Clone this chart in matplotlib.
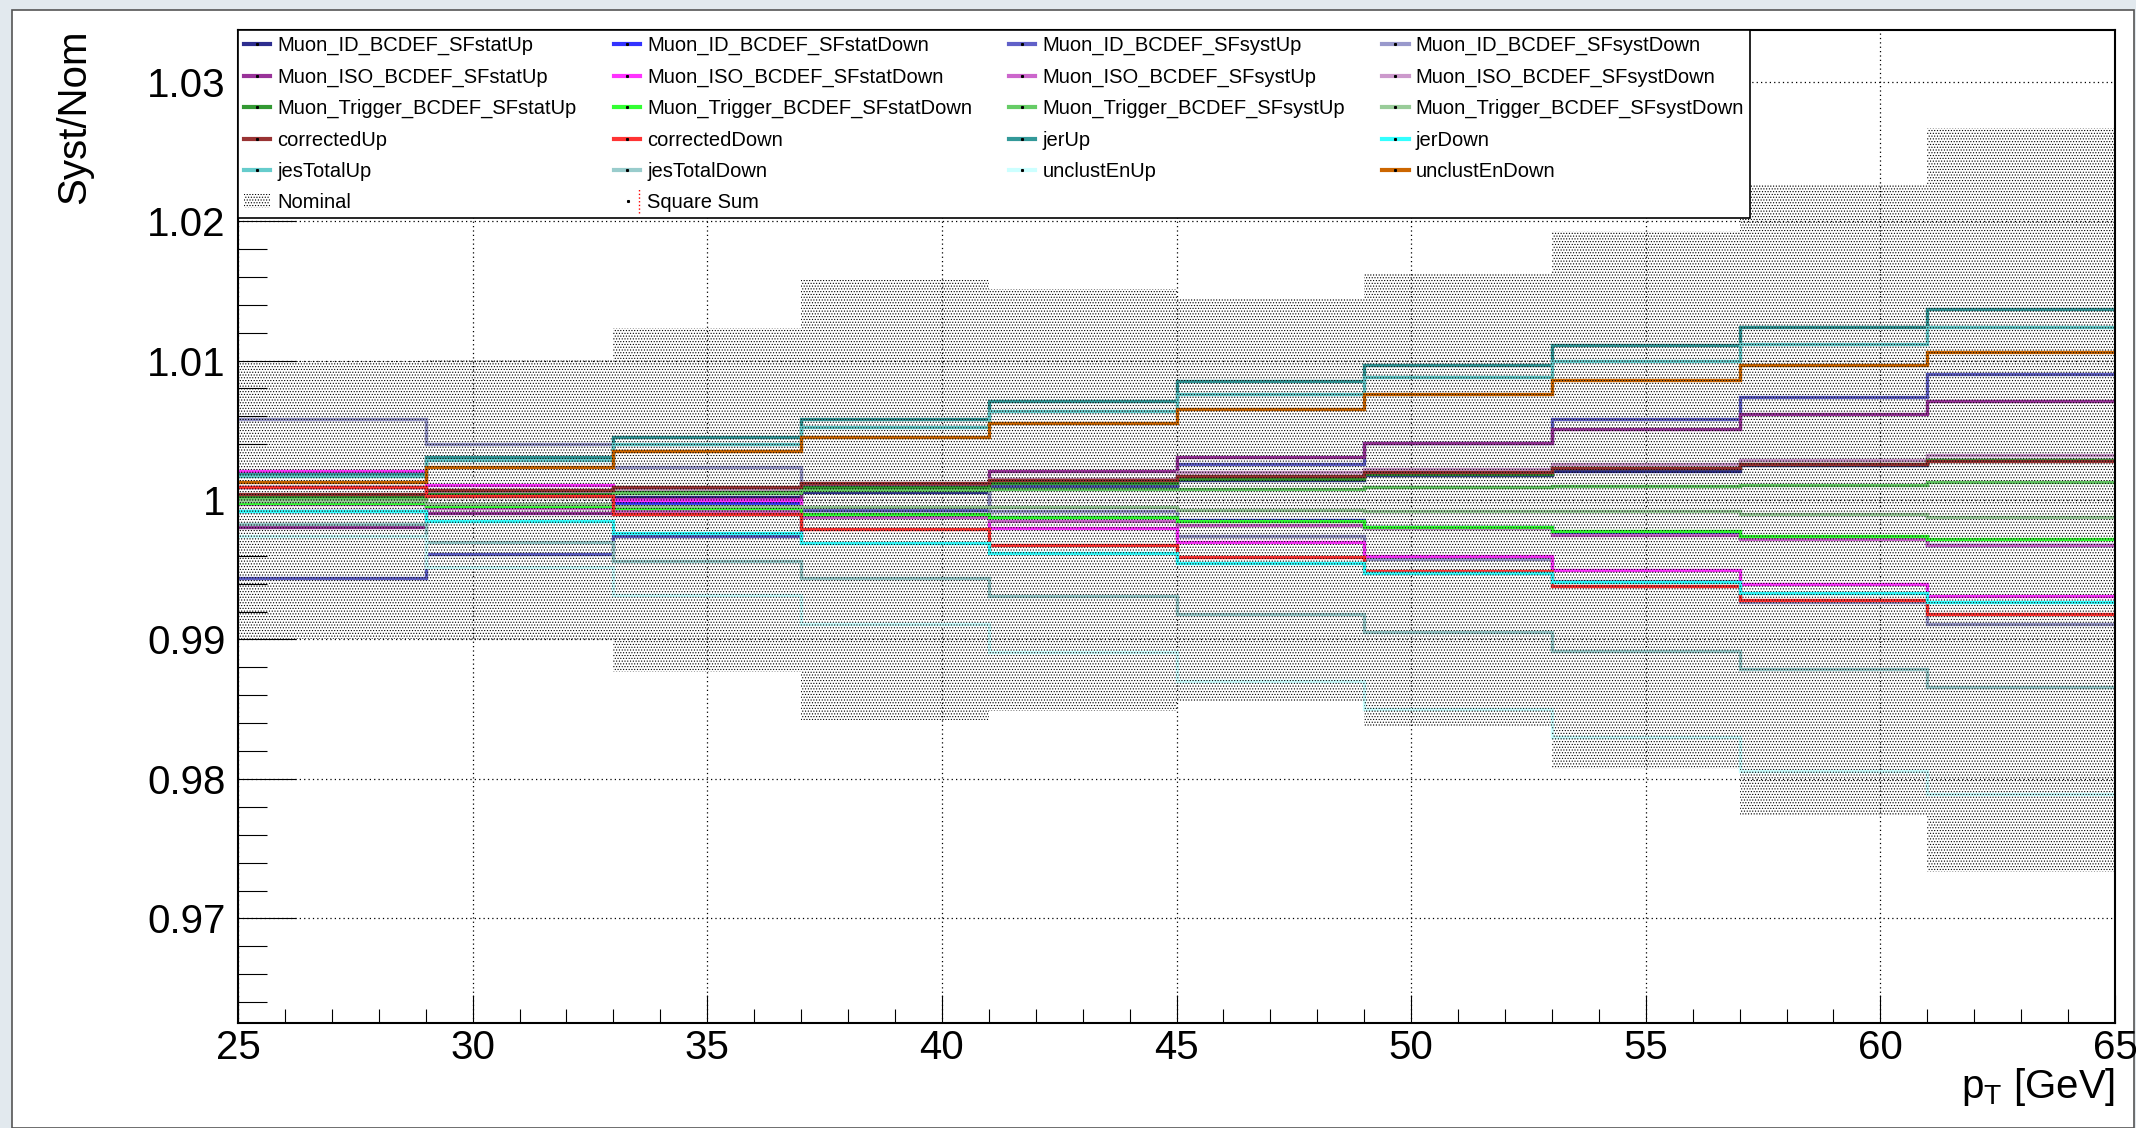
import numpy as np
import matplotlib
matplotlib.use("Agg")
import matplotlib.pyplot as plt
from matplotlib.lines import Line2D
from matplotlib.patches import Rectangle
from matplotlib.legend_handler import HandlerBase
from matplotlib.ticker import MultipleLocator, FuncFormatter

plt.rcParams['font.family'] = ['Liberation Sans', 'DejaVu Sans']
plt.rcParams['mathtext.fontset'] = 'custom'
plt.rcParams['mathtext.rm'] = 'Liberation Sans'
plt.rcParams['hatch.linewidth'] = 0.5

# pT binning
edges = [25, 29, 33, 37, 41, 45, 49, 53, 57, 61, 65]

# ratio syst/nominal per bin
ID_statUp = [0.9992, 0.9996, 1.0002, 1.0006, 1.0010, 1.0014, 1.0018, 1.0021, 1.0025, 1.0029]
ID_statDown = [1.0009, 1.0005, 0.9998, 0.9993, 0.9988, 0.9986, 0.9981, 0.9977, 0.9973, 0.9968]
ID_systUp = [0.9944, 0.9961, 0.9974, 0.9993, 1.0011, 1.0026, 1.0041, 1.0058, 1.0074, 1.0090]
ID_systDown = [1.0058, 1.0040, 1.0024, 1.0008, 0.9992, 0.9974, 0.9958, 0.9942, 0.9927, 0.9911]
ISO_statUp = [0.9981, 0.9991, 1.0001, 1.0011, 1.0021, 1.0031, 1.0041, 1.0051, 1.0062, 1.0071]
ISO_statDown = [1.0021, 1.0011, 1.0000, 0.9990, 0.9980, 0.9970, 0.9960, 0.9950, 0.9940, 0.9931]
ISO_systUp = [0.9997, 0.9994, 0.9992, 0.9988, 0.9985, 0.9982, 0.9980, 0.9975, 0.9972, 0.9968]
ISO_systDown = [1.0003, 1.0006, 1.0008, 1.0012, 1.0015, 1.0020, 1.0022, 1.0026, 1.0029, 1.0032]
Trig_statUp = [1.0002, 1.0004, 1.0006, 1.0009, 1.0012, 1.0015, 1.0019, 1.0023, 1.0026, 1.0029]
Trig_statDown = [0.9998, 0.9996, 0.9994, 0.9990, 0.9988, 0.9985, 0.9981, 0.9978, 0.9974, 0.9972]
Trig_systUp = [1.0001, 1.0003, 1.0005, 1.0007, 1.0008, 1.0008, 1.0009, 1.0010, 1.0011, 1.0013]
Trig_systDown = [0.9999, 0.9997, 0.9996, 0.9995, 0.9995, 0.9993, 0.9992, 0.9992, 0.9990, 0.9988]
correctedUp = [1.0004, 1.0007, 1.0009, 1.0012, 1.0014, 1.0017, 1.0020, 1.0023, 1.0026, 1.0028]
correctedDown = [1.0009, 1.0003, 0.9990, 0.9979, 0.9968, 0.9959, 0.9949, 0.9938, 0.9928, 0.9918]
jerUp = [1.0019, 1.0031, 1.0045, 1.0058, 1.0071, 1.0085, 1.0097, 1.0111, 1.0124, 1.0137]
jerDown = [0.9992, 0.9985, 0.9976, 0.9969, 0.9962, 0.9955, 0.9948, 0.9941, 0.9933, 0.9927]
jesTotalUp = [1.0017, 1.0029, 1.0040, 1.0052, 1.0064, 1.0076, 1.0088, 1.0100, 1.0112, 1.0124]
jesTotalDown = [0.9983, 0.9970, 0.9956, 0.9944, 0.9931, 0.9918, 0.9905, 0.9892, 0.9879, 0.9866]
unclustEnUp = [0.9974, 0.9952, 0.9932, 0.9911, 0.9891, 0.9870, 0.9850, 0.9830, 0.9806, 0.9789]
unclustEnDown = [1.0013, 1.0024, 1.0035, 1.0045, 1.0055, 1.0065, 1.0076, 1.0086, 1.0097, 1.0106]

# nominal stat. uncertainty (half width of the band around 1)
nominal_err = [0.0100, 0.0101, 0.0123, 0.0158, 0.0151, 0.0145, 0.0163, 0.0193, 0.0226, 0.0267]

series = [
    ("Muon_ID_BCDEF_SFstatUp", ID_statUp, "#2e2e8f"),
    ("Muon_ID_BCDEF_SFstatDown", ID_statDown, "#3333ff"),
    ("Muon_ID_BCDEF_SFsystUp", ID_systUp, "#6060c8"),
    ("Muon_ID_BCDEF_SFsystDown", ID_systDown, "#9999cc"),
    ("Muon_ISO_BCDEF_SFstatUp", ISO_statUp, "#993399"),
    ("Muon_ISO_BCDEF_SFstatDown", ISO_statDown, "#ff33ff"),
    ("Muon_ISO_BCDEF_SFsystUp", ISO_systUp, "#cc66cc"),
    ("Muon_ISO_BCDEF_SFsystDown", ISO_systDown, "#cc99cc"),
    ("Muon_Trigger_BCDEF_SFstatUp", Trig_statUp, "#339933"),
    ("Muon_Trigger_BCDEF_SFstatDown", Trig_statDown, "#33ff33"),
    ("Muon_Trigger_BCDEF_SFsystUp", Trig_systUp, "#66cc66"),
    ("Muon_Trigger_BCDEF_SFsystDown", Trig_systDown, "#99cc99"),
    ("correctedUp", correctedUp, "#993333"),
    ("correctedDown", correctedDown, "#ff3333"),
    ("jerUp", jerUp, "#339999"),
    ("jerDown", jerDown, "#33ffff"),
    ("jesTotalUp", jesTotalUp, "#66cccc"),
    ("jesTotalDown", jesTotalDown, "#99cccc"),
    ("unclustEnUp", unclustEnUp, "#ccffff"),
    ("unclustEnDown", unclustEnDown, "#cc6600"),
]


class SquareSumHandler(HandlerBase):
    # small black marker plus red dotted error bar, like the ROOT legend entry
    def create_artists(self, legend, orig_handle, xdescent, ydescent,
                       width, height, fontsize, trans):
        x0 = -xdescent
        dot = Line2D([x0 + 0.55 * width], [0.5 * height - ydescent], marker='s',
                     ms=1.2, color='k', ls='none', transform=trans)
        bar = Line2D([x0 + 0.95 * width] * 2, [-ydescent - 0.35 * height, 1.35 * height - ydescent],
                     color='red', ls=':', lw=1.0, transform=trans)
        return [dot, bar]


fig = plt.figure(figsize=(21.36, 11.28), dpi=100, facecolor='#e2e9ee')
# white ROOT canvas on top of the screenshot background
fig.patches.append(Rectangle((12 / 2136, 0), 1 - 14 / 2136, 1 - 10 / 1128,
                             transform=fig.transFigure, facecolor='white',
                             edgecolor='#555555', lw=1.2, zorder=-10))
ax = fig.add_axes([238 / 2136, 1 - 1023 / 1128, (2115 - 238) / 2136, (1023 - 30) / 1128])
ax.set_zorder(1)
ax.patch.set_alpha(0)

handles = []
for name, vals, col in series:
    ax.stairs(vals, edges, baseline=None, color=col, lw=2.4, zorder=2)
    handles.append(Line2D([], [], color=col, lw=3, marker='s', ms=1.2,
                          mfc='k', mec='k', label=name))

nom = np.ones(len(nominal_err))
err = np.array(nominal_err)
band = ax.stairs(nom + err, edges, baseline=nom - err, fill=True, facecolor='none',
                 edgecolor='#000000', hatch='......', lw=0, zorder=3, label='Nominal')
handles.append(band)
sq = Line2D([], [], label='Square Sum')
handles.append(sq)

# ROOT fills the legend row by row, matplotlib column by column
ncol, nrow = 4, 6
ordered = [handles[r * ncol + c] for c in range(ncol) for r in range(nrow)
           if r * ncol + c < len(handles)]

ax.set_xlim(25, 65)
ax.set_ylim(0.9625, 1.0337)
ax.xaxis.set_major_locator(MultipleLocator(5))
ax.xaxis.set_minor_locator(MultipleLocator(1))
ax.yaxis.set_major_locator(MultipleLocator(0.01))
ax.yaxis.set_minor_locator(MultipleLocator(0.002))
ax.yaxis.set_major_formatter(FuncFormatter(lambda v, p: format(round(v, 4), 'g')))
ax.tick_params(axis='both', which='both', direction='in', width=0.8, colors='k',
               labelsize=29)
ax.tick_params(axis='x', which='major', length=20, pad=4)
ax.tick_params(axis='x', which='minor', length=10)
ax.tick_params(axis='y', which='major', length=42, pad=9)
ax.tick_params(axis='y', which='minor', length=21)
ax.grid(True, which='major', ls=(0, (1, 2.5)), color='k', lw=0.9, zorder=1)
for sp in ax.spines.values():
    sp.set_linewidth(1.5)

ax.set_ylabel('Syst/Nom', fontsize=29, loc='top')
ax.yaxis.set_label_coords(-0.077, 1.0)
ax.set_xlabel(r'$\mathrm{p}_{\mathrm{T}}$ [GeV]', fontsize=29, loc='right')
ax.xaxis.set_label_coords(1.0, -0.043)

leg = ax.legend(handles=ordered, ncol=ncol, loc='upper left', mode='expand',
                bbox_to_anchor=(0, 0, (1750 - 238) / (2115 - 238), 1),
                borderaxespad=0, fontsize=14.5, frameon=True, fancybox=False,
                framealpha=1, edgecolor='k', labelspacing=0.61, borderpad=0.3,
                handlelength=1.3, handletextpad=0.35, columnspacing=1.6,
                handler_map={sq: SquareSumHandler()})
leg.get_frame().set_linewidth(1.2)
leg.set_zorder(5)

fig.savefig("out.png", dpi=100, facecolor=fig.get_facecolor())
